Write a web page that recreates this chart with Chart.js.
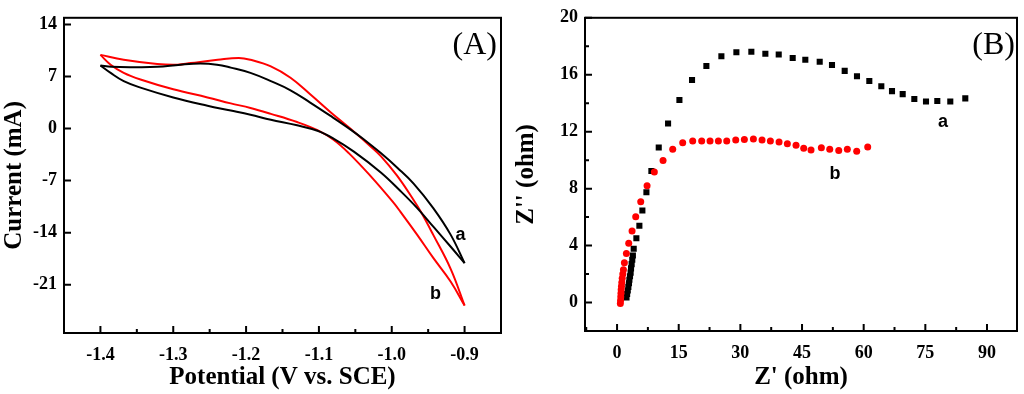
<!DOCTYPE html>
<html>
<head>
<meta charset="utf-8">
<script src="https://cdn.jsdelivr.net/npm/chart.js@4.4.1/dist/chart.umd.min.js"></script>
<style>
  body { margin: 0; background: #fff; }
  .panel { position: absolute; top: 0; width: 512px; height: 394px; }
</style>
</head>
<body>
<div class="panel" style="left:0"><canvas id="cv" width="512" height="394"></canvas></div>
<div class="panel" style="left:512px"><canvas id="eis" width="512" height="394"></canvas></div>
<script>
// ---- (A) cyclic voltammetry, two branches per curve ----
const cvTicksX = [-1.4, -1.3, -1.2, -1.1, -1.0, -0.9];
const cvTicksY = [14, 7, 0, -7, -14, -21];

const aUpperX = [-1.400, -1.385, -1.350, -1.322, -1.290, -1.263, -1.240, -1.221, -1.194, -1.166, -1.139, -1.112, -1.084, -1.057, -1.039, -1.015, -0.992, -0.970, -0.943, -0.919, -0.900];
const aUpperY = [8.49, 8.30, 8.25, 8.30, 8.60, 8.75, 8.60, 8.20, 7.49, 6.38, 5.15, 3.50, 1.70, -0.10, -1.40, -3.30, -5.30, -7.40, -10.70, -14.30, -18.1];
const aLowerX = [-1.400, -1.386, -1.368, -1.345, -1.300, -1.253, -1.221, -1.194, -1.166, -1.130, -1.102, -1.080, -1.052, -1.015, -0.988, -0.965, -0.942, -0.919, -0.900];
const aLowerY = [8.49, 7.49, 6.38, 5.51, 4.19, 3.08, 2.42, 1.85, 1.19, 0.44, -0.30, -1.35, -3.10, -5.90, -8.40, -10.70, -13.30, -15.90, -18.1];

const bUpperX = [-1.400, -1.368, -1.322, -1.294, -1.276, -1.239, -1.210, -1.194, -1.166, -1.139, -1.112, -1.084, -1.057, -1.029, -1.015, -0.993, -0.972, -0.960, -0.943, -0.919, -0.900];
const bUpperY = [9.91, 9.25, 8.68, 8.59, 8.81, 9.25, 9.50, 9.25, 8.36, 6.83, 4.62, 2.21, 0.00, -2.40, -3.70, -6.30, -9.30, -11.20, -14.30, -18.90, -23.8];
const bLowerX = [-1.400, -1.386, -1.368, -1.345, -1.300, -1.253, -1.221, -1.194, -1.166, -1.130, -1.102, -1.080, -1.059, -1.029, -0.999, -0.988, -0.965, -0.943, -0.919, -0.900];
const bLowerY = [9.91, 8.59, 7.49, 6.60, 5.28, 4.19, 3.39, 2.77, 1.98, 0.88, -0.22, -1.50, -3.30, -6.40, -9.80, -11.20, -14.30, -17.40, -20.60, -23.8];

// ---- (B) Nyquist plot ----
const eisTicksX = [0, 15, 30, 45, 60, 75, 90];
const eisTicksY = [0, 4, 8, 12, 16, 20];

const aRe = [2.3, 2.45, 2.6, 2.75, 2.9, 3.0, 3.15, 3.3, 3.4, 3.55, 3.7, 3.85, 4.05, 4.70, 5.43, 6.16, 7.14, 8.35, 10.14, 12.41, 15.17, 18.24, 21.73, 25.38, 29.03, 32.67, 36.08, 39.33, 42.73, 45.80, 49.30, 52.29, 55.38, 58.37, 61.37, 64.29, 66.89, 69.49, 72.32, 75.16, 77.91, 81.07, 84.72];
const aIm = [0.35, 0.6, 0.85, 1.1, 1.35, 1.6, 1.85, 2.1, 2.4, 2.7, 3.0, 3.3, 3.78, 4.52, 5.39, 6.46, 7.75, 9.24, 10.89, 12.58, 14.23, 15.63, 16.61, 17.30, 17.58, 17.62, 17.48, 17.42, 17.18, 17.05, 16.91, 16.68, 16.27, 15.90, 15.56, 15.19, 14.85, 14.64, 14.30, 14.12, 14.16, 14.12, 14.34];
const bRe = [0.8, 0.85, 0.9, 0.95, 1.0, 1.07, 1.15, 1.25, 1.4, 1.55, 1.78, 2.27, 2.84, 3.65, 4.54, 5.76, 7.30, 9.07, 11.19, 13.54, 15.97, 18.40, 20.59, 22.62, 24.65, 26.68, 28.87, 30.97, 33.17, 35.27, 37.30, 39.41, 41.43, 43.54, 45.41, 47.19, 49.70, 51.74, 53.93, 56.02, 58.30, 60.98];
const bIm = [-0.07, 0.15, 0.4, 0.65, 0.9, 1.15, 1.4, 1.7, 2.0, 2.3, 2.8, 3.44, 4.17, 5.02, 6.03, 7.08, 8.2, 9.17, 9.97, 10.77, 11.23, 11.34, 11.34, 11.34, 11.34, 11.34, 11.41, 11.46, 11.48, 11.41, 11.34, 11.27, 11.16, 11.04, 10.84, 10.72, 10.88, 10.77, 10.68, 10.77, 10.63, 10.93];

Chart.defaults.font.family = '"Liberation Serif", "Times New Roman", serif';
Chart.defaults.color = '#000';

const pts = (xs, ys) => xs.map((x, i) => ({x: x, y: ys[i]}));

// midpoints between major ticks (plus one step outside each end)
function minorOf(major, min, max) {
    const step = major[1] - major[0];
    const out = [];
    for (let v = major[0] - step / 2; v <= major[major.length - 1] + step; v += step) {
        if (v >= Math.min(min, max) - 1e-9 && v <= Math.max(min, max) + 1e-9) out.push(v);
    }
    return out;
}

// box round the plot, inward ticks, curve labels and panel letter
const frame = {
    id: 'frame',
    afterDraw(chart, args, opts) {
        const {ctx, chartArea: a, scales: {x, y}} = chart;
        ctx.save();
        ctx.strokeStyle = '#000';
        ctx.lineWidth = 2;
        ctx.strokeRect(a.left, a.top, a.right - a.left, a.bottom - a.top);
        ctx.beginPath();
        opts.xMajor.forEach(v => { const p = x.getPixelForValue(v); ctx.moveTo(p, a.bottom); ctx.lineTo(p, a.bottom - 7); });
        minorOf(opts.xMajor, x.min, x.max).forEach(v => { const p = x.getPixelForValue(v); ctx.moveTo(p, a.bottom); ctx.lineTo(p, a.bottom - 4); });
        opts.yMajor.forEach(v => { const p = y.getPixelForValue(v); ctx.moveTo(a.left, p); ctx.lineTo(a.left + 7, p); });
        minorOf(opts.yMajor, y.min, y.max).forEach(v => { const p = y.getPixelForValue(v); ctx.moveTo(a.left, p); ctx.lineTo(a.left + 4, p); });
        ctx.stroke();

        ctx.fillStyle = '#000';
        ctx.textAlign = 'center';
        ctx.textBaseline = 'middle';
        ctx.font = 'bold 18px "Liberation Sans", Arial, sans-serif';
        opts.notes.forEach(n => ctx.fillText(n.text, x.getPixelForValue(n.x), y.getPixelForValue(n.y)));

        ctx.textAlign = 'right';
        ctx.font = '32px "Liberation Serif", "Times New Roman", serif';
        ctx.fillText(opts.letter, a.right - opts.letterDx, a.top + 28);
        ctx.restore();
    }
};

function axis(min, max, ticks, fmt, title, fixedSize, horizontal, pad) {
    return {
        type: 'linear',
        min: min,
        max: max,
        grid: { display: false, drawTicks: false },
        border: { display: true, color: '#000', width: 2 },
        afterBuildTicks: s => { s.ticks = ticks.map(v => ({value: v})); },
        afterFit: s => { if (horizontal) s.height = fixedSize; else s.width = fixedSize; },
        ticks: {
            callback: fmt,
            padding: pad,
            maxRotation: 0,
            autoSkip: false,
            font: { size: 18, weight: 'bold' }
        },
        title: {
            display: true,
            text: title,
            font: { size: 25, weight: 'bold' },
            padding: { top: 0, bottom: 1 }
        }
    };
}

const cvLine = (xs, ys, color) => ({
    data: pts(xs, ys),
    showLine: true,
    borderColor: color,
    borderWidth: 2,
    pointRadius: 0,
    tension: 0.4,
    fill: false
});

new Chart(document.getElementById('cv'), {
    type: 'scatter',
    data: {
        datasets: [
            cvLine(aUpperX, aUpperY, '#000000'),
            cvLine(aLowerX, aLowerY, '#000000'),
            cvLine(bUpperX, bUpperY, '#ff0000'),
            cvLine(bLowerX, bLowerY, '#ff0000')
        ]
    },
    options: {
        responsive: false,
        animation: false,
        devicePixelRatio: 1,
        layout: { padding: { top: 12, right: 11, left: 0, bottom: 0 } },
        plugins: {
            legend: { display: false },
            tooltip: { enabled: false },
            frame: {
                xMajor: cvTicksX, yMajor: cvTicksY, letter: '(A)', letterDx: 4,
                notes: [ {text: 'a', x: -0.9055, y: -14.3}, {text: 'b', x: -0.940, y: -22.2} ]
            }
        },
        scales: {
            x: axis(-1.45, -0.85, cvTicksX, v => v.toFixed(1), 'Potential (V vs. SCE)', 61, true, 12),
            y: axis(-27.5, 14.9, cvTicksY, v => String(v), 'Current (mA)', 64, false, 7)
        }
    },
    plugins: [frame]
});

new Chart(document.getElementById('eis'), {
    type: 'scatter',
    data: {
        datasets: [
            {
                data: pts(bRe, bIm),
                pointStyle: 'circle',
                pointRadius: 3.5,
                pointBorderWidth: 0,
                backgroundColor: '#ff0000',
                borderColor: '#ff0000'
            },
            {
                data: pts(aRe, aIm),
                pointStyle: 'rect',
                pointRadius: 4.3,
                pointBorderWidth: 0,
                backgroundColor: '#000000',
                borderColor: '#000000'
            }
        ]
    },
    options: {
        responsive: false,
        animation: false,
        devicePixelRatio: 1,
        layout: { padding: { top: 11, right: 7, left: 0, bottom: 0 } },
        plugins: {
            legend: { display: false },
            tooltip: { enabled: false },
            frame: {
                xMajor: eisTicksX, yMajor: eisTicksY, letter: '(B)', letterDx: 2,
                notes: [ {text: 'a', x: 79.3, y: 12.7}, {text: 'b', x: 53.0, y: 9.0} ]
            }
        },
        scales: {
            x: axis(-7.8, 97.3, eisTicksX, v => String(v), "Z' (ohm)", 63, true, 12),
            y: axis(-2, 20, eisTicksY, v => String(v), "Z'' (ohm)", 73, false, 7)
        }
    },
    plugins: [frame]
});
</script>
</body>
</html>
